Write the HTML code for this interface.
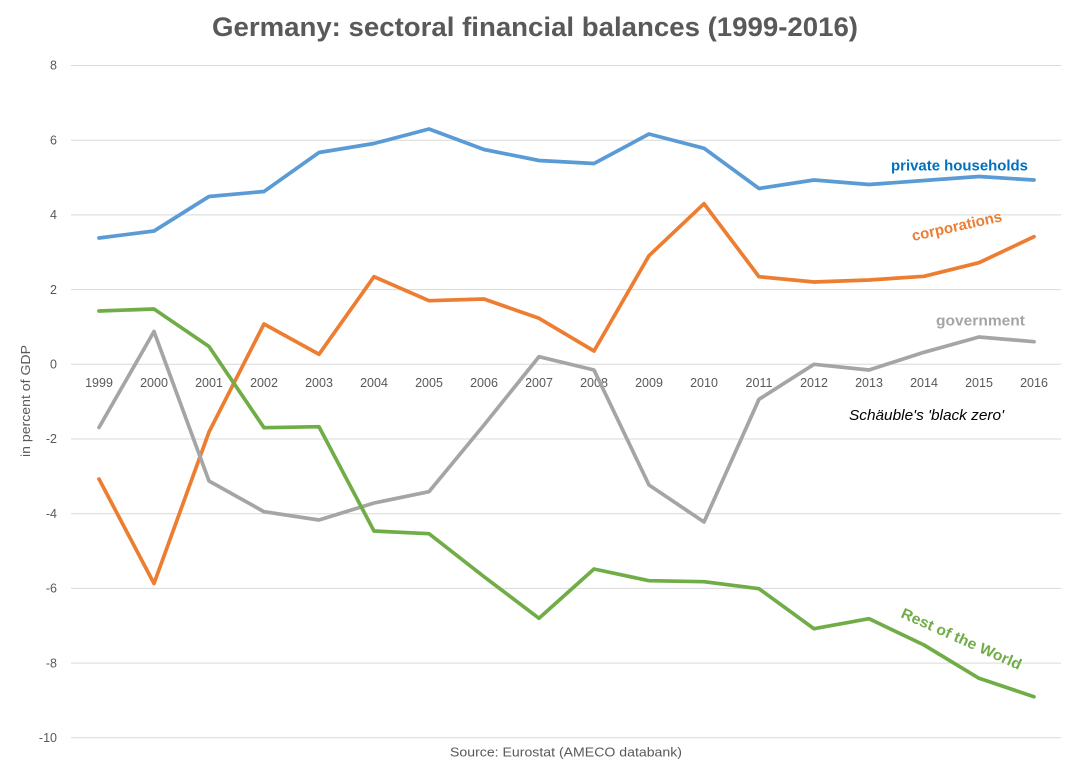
<!DOCTYPE html>
<html>
<head>
<meta charset="utf-8">
<style>
  html, body { margin: 0; padding: 0; background: #ffffff; }
  svg { display: block; }
  text { font-family: "Liberation Sans", "DejaVu Sans", sans-serif; }
</style>
</head>
<body>
<svg width="1070" height="771" viewBox="0 0 1070 771" xmlns="http://www.w3.org/2000/svg">
  <rect x="0" y="0" width="1070" height="771" fill="#ffffff"/>

  <!-- Title -->
  <text x="535" y="36" text-anchor="middle" font-size="27" font-weight="bold" fill="#595959" textLength="646" lengthAdjust="spacingAndGlyphs">Germany: sectoral financial balances (1999-2016)</text>

  <!-- Gridlines -->
  <g stroke="#d9d9d9" stroke-width="1">
    <line x1="71" y1="65.5" x2="1061" y2="65.5"/>
    <line x1="71" y1="140.2" x2="1061" y2="140.2"/>
    <line x1="71" y1="214.9" x2="1061" y2="214.9"/>
    <line x1="71" y1="289.6" x2="1061" y2="289.6"/>
    <line x1="71" y1="364.3" x2="1061" y2="364.3"/>
    <line x1="71" y1="439" x2="1061" y2="439"/>
    <line x1="71" y1="513.7" x2="1061" y2="513.7"/>
    <line x1="71" y1="588.4" x2="1061" y2="588.4"/>
    <line x1="71" y1="663.1" x2="1061" y2="663.1"/>
    <line x1="71" y1="737.8" x2="1061" y2="737.8"/>
  </g>

  <!-- Y tick labels -->
  <g font-size="12.5" fill="#595959" text-anchor="end">
    <text x="57" y="69.7">8</text>
    <text x="57" y="144.4">6</text>
    <text x="57" y="219.1">4</text>
    <text x="57" y="293.8">2</text>
    <text x="57" y="368.5">0</text>
    <text x="57" y="443.2">-2</text>
    <text x="57" y="517.9">-4</text>
    <text x="57" y="592.6">-6</text>
    <text x="57" y="667.3">-8</text>
    <text x="57" y="742">-10</text>
  </g>

  <!-- Y axis title -->
  <text transform="translate(30,401) rotate(-90)" text-anchor="middle" font-size="13" fill="#595959" textLength="112" lengthAdjust="spacingAndGlyphs">in percent of GDP</text>

  <!-- X labels -->
  <g font-size="12.5" fill="#595959" text-anchor="middle">
    <text x="99" y="387">1999</text>
    <text x="154" y="387">2000</text>
    <text x="209" y="387">2001</text>
    <text x="264" y="387">2002</text>
    <text x="319" y="387">2003</text>
    <text x="374" y="387">2004</text>
    <text x="429" y="387">2005</text>
    <text x="484" y="387">2006</text>
    <text x="539" y="387">2007</text>
    <text x="594" y="387">2008</text>
    <text x="649" y="387">2009</text>
    <text x="704" y="387">2010</text>
    <text x="759" y="387">2011</text>
    <text x="814" y="387">2012</text>
    <text x="869" y="387">2013</text>
    <text x="924" y="387">2014</text>
    <text x="979" y="387">2015</text>
    <text x="1034" y="387">2016</text>
  </g>

  <!-- Series -->
  <g fill="none" stroke-width="3.7" stroke-linejoin="round" stroke-linecap="round">
    <!-- private households -->
    <polyline stroke="#5b9bd5" points="99,238 154,231 209,196.5 264,191.5 319,152.5 374,143.5 429,129 484,149.5 539,160.5 594,163.5 649,134 704,148.3 759,188.5 814,180 869,184.5 924,180.5 979,176.5 1034,180"/>
    <!-- corporations -->
    <polyline stroke="#ed7d31" points="99,479 154,583.5 209,432 264,324 319,354.3 374,276.7 429,300.7 484,299 539,318.3 594,351 649,255.7 704,203.7 759,276.7 814,282 869,280 924,276.3 979,262.7 1034,236.7"/>
    <!-- government -->
    <polyline stroke="#a5a5a5" points="99,427.5 154,331.5 209,481 264,511.7 319,520 374,503 429,491.7 484,425 539,356.7 594,370 649,485 704,522 759,399.3 814,364.3 869,370 924,352.3 979,337 1034,341.7"/>
    <!-- rest of the world -->
    <polyline stroke="#70ad47" points="99,311 154,309 209,346.5 264,427.7 319,426.7 374,531 429,533.7 484,576.7 539,618.3 594,569 649,580.7 704,581.7 759,588.7 814,628.7 869,618.7 924,645 979,678.3 1034,696.7"/>
  </g>

  <!-- Series labels -->
  <text x="891" y="170.5" font-size="15" font-weight="bold" fill="#0070c0" textLength="137" lengthAdjust="spacingAndGlyphs">private households</text>
  <text transform="translate(913,241) rotate(-12.5)" font-size="15" font-weight="bold" fill="#ed7d31" textLength="92" lengthAdjust="spacingAndGlyphs">corporations</text>
  <text x="936" y="325.5" font-size="15" font-weight="bold" fill="#a5a5a5" textLength="89" lengthAdjust="spacingAndGlyphs">government</text>
  <text x="849" y="420" font-size="15" font-style="italic" fill="#000000" textLength="155" lengthAdjust="spacingAndGlyphs">Schäuble's 'black zero'</text>
  <text transform="translate(900,617) rotate(24)" font-size="15" font-weight="bold" fill="#70ad47" textLength="130" lengthAdjust="spacingAndGlyphs">Rest of the World</text>

  <!-- Source -->
  <text x="450" y="756.5" font-size="12.5" fill="#595959" textLength="232" lengthAdjust="spacingAndGlyphs">Source: Eurostat (AMECO databank)</text>
</svg>
</body>
</html>
